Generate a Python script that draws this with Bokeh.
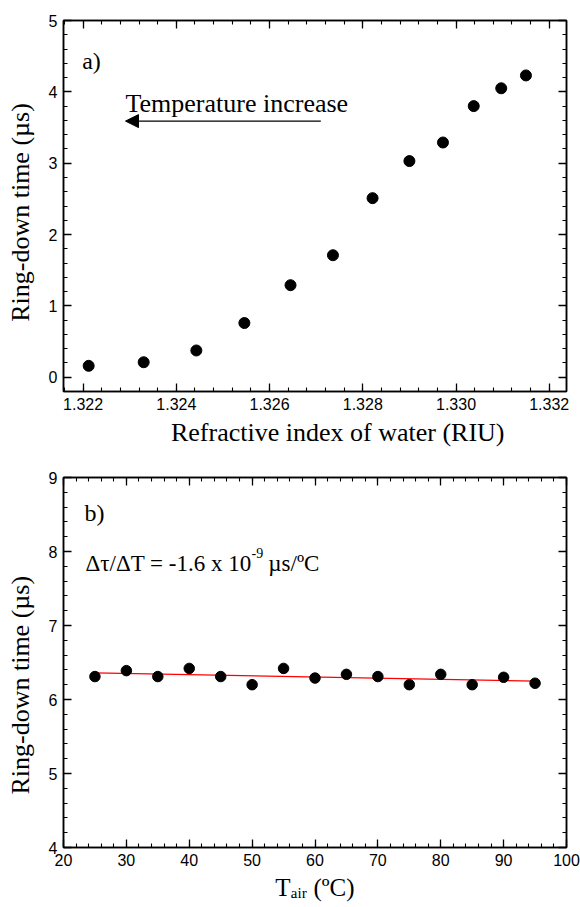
import numpy as np
from bokeh.plotting import figure
from bokeh.models import (LinearAxis, FixedTicker, Label, Arrow, NormalHead, Range1d,
                          PrintfTickFormatter)
from bokeh.layouts import column
from bokeh.embed import file_html
from bokeh.resources import INLINE

# ---------------- data: panel a ----------------
n_water = [1.32212, 1.32330, 1.32443, 1.32546, 1.32645, 1.32736,
           1.32821, 1.32900, 1.32972, 1.33038, 1.33097, 1.33150]
tau_a = [0.16, 0.21, 0.375, 0.76, 1.29, 1.71, 2.51, 3.03, 3.29, 3.80, 4.05, 4.23]

xa_major = [1.322, 1.324, 1.326, 1.328, 1.330, 1.332]
ya_major = [0, 1, 2, 3, 4, 5]

# ---------------- data: panel b ----------------
t_air = [25, 30, 35, 40, 45, 50, 55, 60, 65, 70, 75, 80, 85, 90, 95]
tau_b = [6.31, 6.39, 6.31, 6.42, 6.31, 6.20, 6.42, 6.29, 6.34, 6.31,
         6.20, 6.34, 6.20, 6.30, 6.22]

xb_major = [20, 30, 40, 50, 60, 70, 80, 90, 100]
yb_major = [4, 5, 6, 7, 8, 9]

SERIF = "Liberation Serif"
SANS = "Liberation Sans"
NB = "\u00a0"


def minor(major, n=5, below=0, above=0):
    step = (major[1] - major[0]) / n
    start = major[0] - below * step
    count = (len(major) - 1) * n + below + above + 1
    return [round(start + i * step, 6) for i in range(count)]


def style_axis(ax, major, minors, labels=True, fmt=None, standoff=6):
    ax.ticker = FixedTicker(ticks=major, minor_ticks=minors)
    if fmt is not None:
        ax.formatter = PrintfTickFormatter(format=fmt)
    ax.axis_line_color = "black"
    ax.axis_line_width = 1.5
    ax.major_tick_in = 8
    ax.major_tick_out = 0
    ax.minor_tick_in = 4
    ax.minor_tick_out = 0
    ax.major_tick_line_width = 1.3
    ax.minor_tick_line_width = 1.1
    ax.major_tick_line_color = "black"
    ax.minor_tick_line_color = "black"
    ax.major_label_text_font = SANS
    if labels:
        ax.major_label_text_color = "black"
        ax.major_label_text_font_size = "16px"
        ax.major_label_standoff = standoff
    else:
        ax.major_label_text_color = None
        ax.major_label_text_font_size = "6px"
        ax.major_label_standoff = 0
    ax.axis_label_text_font = SERIF
    ax.axis_label_text_font_style = "normal"
    ax.axis_label_text_font_size = "26px"
    ax.axis_label_text_color = "black"


def make_fig(height, xr, yr, mb_top, mb_bottom, xmaj, xmin, ymaj, ymin, xfmt=None,
             xlabel=None, ylabel=None, xstand=5, ystand=11, xtick_standoff=6,
             xlabel_size="26px"):
    p = figure(width=580, height=height, x_range=Range1d(*xr), y_range=Range1d(*yr),
               output_backend="svg", toolbar_location=None, title=None,
               min_border_left=63, min_border_right=14,
               min_border_top=mb_top, min_border_bottom=mb_bottom,
               x_axis_location=None, y_axis_location=None)
    p.xgrid.visible = False
    p.ygrid.visible = False
    p.outline_line_color = "black"
    p.outline_line_width = 1.5
    p.background_fill_color = "white"
    p.border_fill_color = "white"
    ax = LinearAxis()
    style_axis(ax, xmaj, xmin, True, xfmt, xtick_standoff)
    if xlabel:
        ax.axis_label = xlabel
        ax.axis_label_standoff = xstand
        ax.axis_label_text_font_size = xlabel_size
    p.add_layout(ax, "below")
    ax = LinearAxis()
    style_axis(ax, xmaj, xmin, False)
    p.add_layout(ax, "above")
    ax = LinearAxis()
    style_axis(ax, ymaj, ymin, True)
    if ylabel:
        ax.axis_label = ylabel
        ax.axis_label_standoff = ystand
    p.add_layout(ax, "left")
    ax = LinearAxis()
    style_axis(ax, ymaj, ymin, False)
    p.add_layout(ax, "right")
    return p


def lab(p, x, y, text, size, font=SERIF, align="left", baseline="alphabetic"):
    p.add_layout(Label(x=x, y=y, x_units="screen", y_units="screen", text=text,
                       text_font=font, text_font_size=size, text_color="black",
                       text_align=align, text_baseline=baseline))


YLABEL = "Ring-down time (µs)"

# ---------------- panel a ----------------
pa = make_fig(460, (1.32158, 1.33237), (-0.2, 5.0), 20, 69,
              xa_major, minor(xa_major, 5, 1, 0), ya_major, minor(ya_major, 5, 1, 0),
              xfmt="%.3f",
              xlabel=NB * 7 + "Refractive index of water (RIU)",
              ylabel=YLABEL + NB * 2, xstand=5, ystand=11)
pa.scatter(n_water, tau_a, size=11, color="black", marker="circle")

arrow_x_start, arrow_x_end, arrow_y = 1.3271, 1.32291, 3.59
pa.add_layout(Arrow(end=NormalHead(size=13, fill_color="black", line_color="black", line_width=1),
                    x_start=arrow_x_start, y_start=arrow_y, x_end=arrow_x_end, y_end=arrow_y,
                    line_color="black", line_width=1.2))

lab(pa, 18.7, 331, "a)", "24px")
lab(pa, 62, 288, "Temperature increase", "26px")

# ---------------- panel b ----------------
pb = make_fig(443, (20, 100), (4, 9), 17, 56,
              xb_major, minor(xb_major, 5), yb_major, minor(yb_major, 5),
              xlabel="T\u2090\u1d62\u1d63 (ºC)", xstand=5, xlabel_size="25px",
              ylabel=YLABEL + NB * 7, ystand=11, xtick_standoff=6)

coef = np.polyfit(t_air, tau_b, 1)
fit_x = [min(t_air), max(t_air)]
fit_y = list(np.polyval(coef, fit_x))
pb.line(fit_x, fit_y, line_color="#ff0000", line_width=1.3)
pb.scatter(t_air, tau_b, size=10.5, color="black", marker="circle")

lab(pb, 21, 335, "b)", "24px")
fs = 23
lab(pb, 22, 284, "Δτ/ΔT = -1.6 x 10", f"{fs}px")
sup_x = 22 + 7.2 * fs + 0.5
lab(pb, sup_x, 295, "-9", "14px")
lab(pb, sup_x + 11.7 + 5, 284, "µs/ºC", f"{fs}px")

layout = column(pa, pb, spacing=0)
open("out.html", "w").write(file_html(layout, INLINE))
